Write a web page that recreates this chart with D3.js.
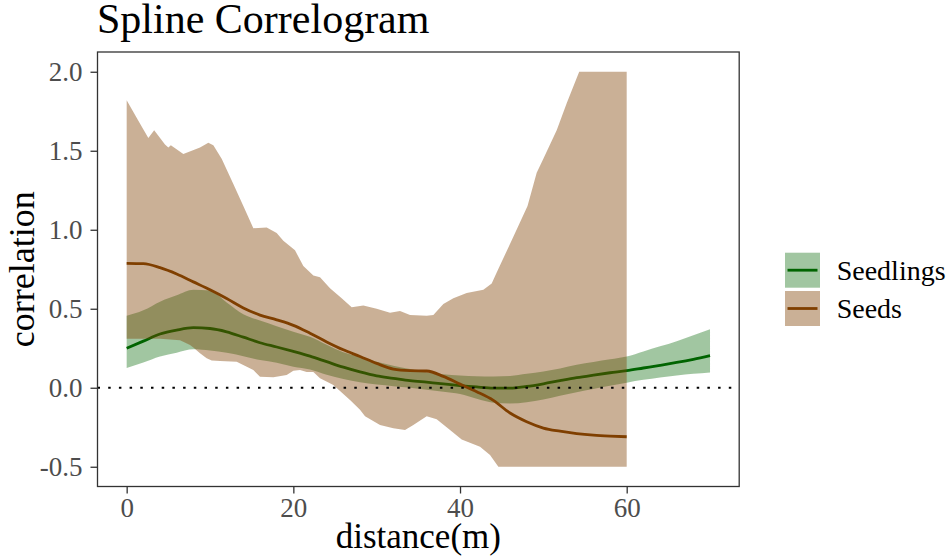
<!DOCTYPE html>
<html>
<head>
<meta charset="utf-8">
<script src="https://cdn.jsdelivr.net/npm/d3@7"></script>
<style>
  body { margin: 0; background: #fff; }
  text { font-family: "Liberation Serif", "DejaVu Serif", serif; }
</style>
</head>
<body>
<div id="chart"></div>
<script>
// ---- data ----
const seriesNames = ["Seedlings", "Seeds"];

// seedlings spline: distance grid, fitted value, confidence band
const seedlingsDist = [0,2,4,6,8,10,12,14,16,18,20,22,24,26,28,30,32,34,36,38,40,42,44,46,48,50,52,54,56,58,60,62,64,66,68,70];
const seedlingsFit = [0.25,0.295,0.34,0.365,0.38,0.375,0.354,0.32,0.285,0.258,0.23,0.2,0.165,0.13,0.1,0.075,0.06,0.045,0.035,0.025,0.014,0.005,-0.002,-0.003,0.008,0.025,0.045,0.064,0.08,0.095,0.108,0.125,0.142,0.16,0.18,0.203];
const seedlingsUpper = [0.455,0.49,0.545,0.585,0.62,0.615,0.54,0.465,0.425,0.39,0.355,0.322,0.272,0.225,0.196,0.165,0.14,0.118,0.098,0.085,0.077,0.073,0.071,0.074,0.088,0.103,0.122,0.145,0.163,0.18,0.198,0.23,0.262,0.295,0.332,0.37];
const seedlingsLower = [0.125,0.16,0.198,0.222,0.243,0.235,0.222,0.2,0.175,0.158,0.133,0.115,0.082,0.055,0.035,0.02,0.01,0,-0.012,-0.025,-0.04,-0.07,-0.095,-0.1,-0.092,-0.075,-0.05,-0.028,-0.008,0.012,0.032,0.05,0.065,0.078,0.088,0.097];

// seeds spline
const seedsDist = [0,2,4,6,8,10,12,14,16,18,20,22,24,26,28,30,32,34,36,38,40,42,44,46,48,50,52,54,56,58,60];
const seedsFit = [0.787,0.785,0.76,0.72,0.67,0.62,0.565,0.505,0.46,0.43,0.395,0.345,0.29,0.24,0.198,0.154,0.118,0.108,0.106,0.072,0.023,-0.025,-0.08,-0.16,-0.215,-0.255,-0.275,-0.29,-0.3,-0.306,-0.31];
// seeds band edges (bootstrap envelope, ragged)
const seedsUpperDist = [0,1.3,2.6,3.3,4.6,5.0,5.3,6.8,8.8,9.8,10.4,11.4,12.8,14,15.2,16.8,18,18.8,20.2,21.2,22.4,23.2,24.4,25.8,27,28.4,30,31.6,32.8,34,36,36.8,38,39.2,40.8,42.8,43.8,44.4,46.4,48.1,49.2,50,51.6,52.8,54.3,60];
const seedsUpper = [1.82,1.7,1.58,1.63,1.54,1.52,1.535,1.48,1.52,1.55,1.535,1.45,1.29,1.15,1.01,1.015,0.98,0.93,0.87,0.77,0.71,0.70,0.63,0.566,0.51,0.52,0.50,0.475,0.485,0.46,0.456,0.46,0.53,0.566,0.60,0.62,0.66,0.73,0.955,1.15,1.36,1.45,1.63,1.80,2.0,2.0];
const seedsLowerDist = [0,4,6.4,7.6,8,8.8,9.6,10.2,11.2,13.2,15.2,16,17.6,19.2,20,20.8,21.6,22.4,23.2,24.8,26.8,28,28.6,30.4,32,33.4,34.4,36,37.2,38.8,40.2,42.4,43.6,44.6,60];
const seedsLower = [0.31,0.31,0.30,0.27,0.255,0.218,0.186,0.172,0.17,0.165,0.112,0.07,0.066,0.08,0.108,0.112,0.10,0.10,0.06,0.017,-0.078,-0.14,-0.18,-0.236,-0.257,-0.268,-0.236,-0.18,-0.2,-0.268,-0.327,-0.373,-0.426,-0.5,-0.5];

const yTicks = [-0.5, 0, 0.5, 1, 1.5, 2];
const yTickLabels = ["-0.5", "0.0", "0.5", "1.0", "1.5", "2.0"];
const xTicks = [0, 20, 40, 60];
const xTickLabels = ["0", "20", "40", "60"];

// ---- layout ----
const W = 951, H = 558;
const panel = { left: 97.5, top: 52, right: 739.2, bottom: 486.5 };
const colSeedlings = "#006400";
const colSeeds = "#7f3f00";

const svg = d3.select("#chart").append("svg")
  .attr("width", W)
  .attr("height", H);

const x = d3.scaleLinear().domain([-3.5, 73.5]).range([panel.left, panel.right]);
const y = d3.scaleLinear().domain([-0.625, 2.125]).range([panel.bottom, panel.top]);

svg.append("clipPath").attr("id", "clip")
  .append("rect")
  .attr("x", panel.left).attr("y", panel.top)
  .attr("width", panel.right - panel.left)
  .attr("height", panel.bottom - panel.top);

const plot = svg.append("g").attr("clip-path", "url(#clip)");

// seedlings band + line
const seedlingsRows = seedlingsDist.map((d, i) => ({ d: d, fit: seedlingsFit[i], lo: seedlingsLower[i], hi: seedlingsUpper[i] }));

plot.append("path")
  .datum(seedlingsRows)
  .attr("fill", colSeedlings)
  .attr("fill-opacity", 0.37)
  .attr("d", d3.area()
    .x(r => x(r.d))
    .y0(r => y(r.lo))
    .y1(r => y(r.hi))
    .curve(d3.curveMonotoneX));

plot.append("path")
  .datum(seedlingsRows)
  .attr("fill", "none")
  .attr("stroke", colSeedlings)
  .attr("stroke-width", 2.8)
  .attr("d", d3.line()
    .x(r => x(r.d))
    .y(r => y(r.fit))
    .curve(d3.curveMonotoneX));

// seeds band (upper edge forward, lower edge back) + line
const seedsBand = seedsUpperDist.map((d, i) => [d, seedsUpper[i]])
  .concat(seedsLowerDist.map((d, i) => [d, seedsLower[i]]).reverse());

plot.append("path")
  .datum(seedsBand)
  .attr("fill", colSeeds)
  .attr("fill-opacity", 0.41)
  .attr("d", d3.line()
    .x(p => x(p[0]))
    .y(p => y(p[1]))
    .curve(d3.curveLinearClosed));

plot.append("path")
  .datum(seedsDist.map((d, i) => [d, seedsFit[i]]))
  .attr("fill", "none")
  .attr("stroke", colSeeds)
  .attr("stroke-width", 2.8)
  .attr("d", d3.line()
    .x(p => x(p[0]))
    .y(p => y(p[1]))
    .curve(d3.curveMonotoneX));

// zero reference line
plot.append("line")
  .attr("x1", panel.left).attr("x2", panel.right)
  .attr("y1", y(0)).attr("y2", y(0))
  .attr("stroke", "#000")
  .attr("stroke-width", 2)
  .attr("stroke-dasharray", "2.5,8.2");

// panel border
svg.append("rect")
  .attr("x", panel.left).attr("y", panel.top)
  .attr("width", panel.right - panel.left)
  .attr("height", panel.bottom - panel.top)
  .attr("fill", "none")
  .attr("stroke", "#333")
  .attr("stroke-width", 1.3);

// axes
const yAxis = svg.append("g")
  .attr("transform", `translate(${panel.left},0)`)
  .call(d3.axisLeft(y).tickValues(yTicks).tickFormat((d, i) => yTickLabels[i]).tickSize(7).tickPadding(8));

const xAxis = svg.append("g")
  .attr("transform", `translate(0,${panel.bottom})`)
  .call(d3.axisBottom(x).tickValues(xTicks).tickFormat((d, i) => xTickLabels[i]).tickSize(7).tickPadding(4));

[yAxis, xAxis].forEach(g => {
  g.select(".domain").remove();
  g.selectAll(".tick line").attr("stroke", "#333").attr("stroke-width", 1.3);
  g.selectAll(".tick text")
    .attr("fill", "#4d4d4d")
    .style("font-family", '"Liberation Serif", "DejaVu Serif", serif')
    .style("font-size", "27px");
});

// titles
svg.append("text")
  .attr("x", 97)
  .attr("y", 32.5)
  .attr("font-size", 42)
  .attr("fill", "#000")
  .text("Spline Correlogram");

svg.append("text")
  .attr("x", (panel.left + panel.right) / 2)
  .attr("y", 548)
  .attr("text-anchor", "middle")
  .attr("font-size", 35)
  .attr("fill", "#000")
  .text("distance(m)");

svg.append("text")
  .attr("transform", `translate(34,${(panel.top + panel.bottom) / 2}) rotate(-90)`)
  .attr("text-anchor", "middle")
  .attr("font-size", 36)
  .attr("fill", "#000")
  .text("correlation");

// legend
const legendColors = [colSeedlings, colSeeds];
const legendAlpha = [0.37, 0.41];
const legend = svg.append("g").attr("transform", "translate(785,252.7)");
seriesNames.forEach((name, i) => {
  const g = legend.append("g").attr("transform", `translate(0,${i * 38.3})`);
  g.append("rect")
    .attr("width", 35).attr("height", 35)
    .attr("fill", legendColors[i])
    .attr("fill-opacity", legendAlpha[i]);
  g.append("line")
    .attr("x1", 2.5).attr("x2", 32.5)
    .attr("y1", 17.5).attr("y2", 17.5)
    .attr("stroke", legendColors[i])
    .attr("stroke-width", 2.8);
  g.append("text")
    .attr("x", 51.7)
    .attr("y", 27)
    .attr("font-size", 28)
    .attr("fill", "#000")
    .text(name);
});
</script>
</body>
</html>
